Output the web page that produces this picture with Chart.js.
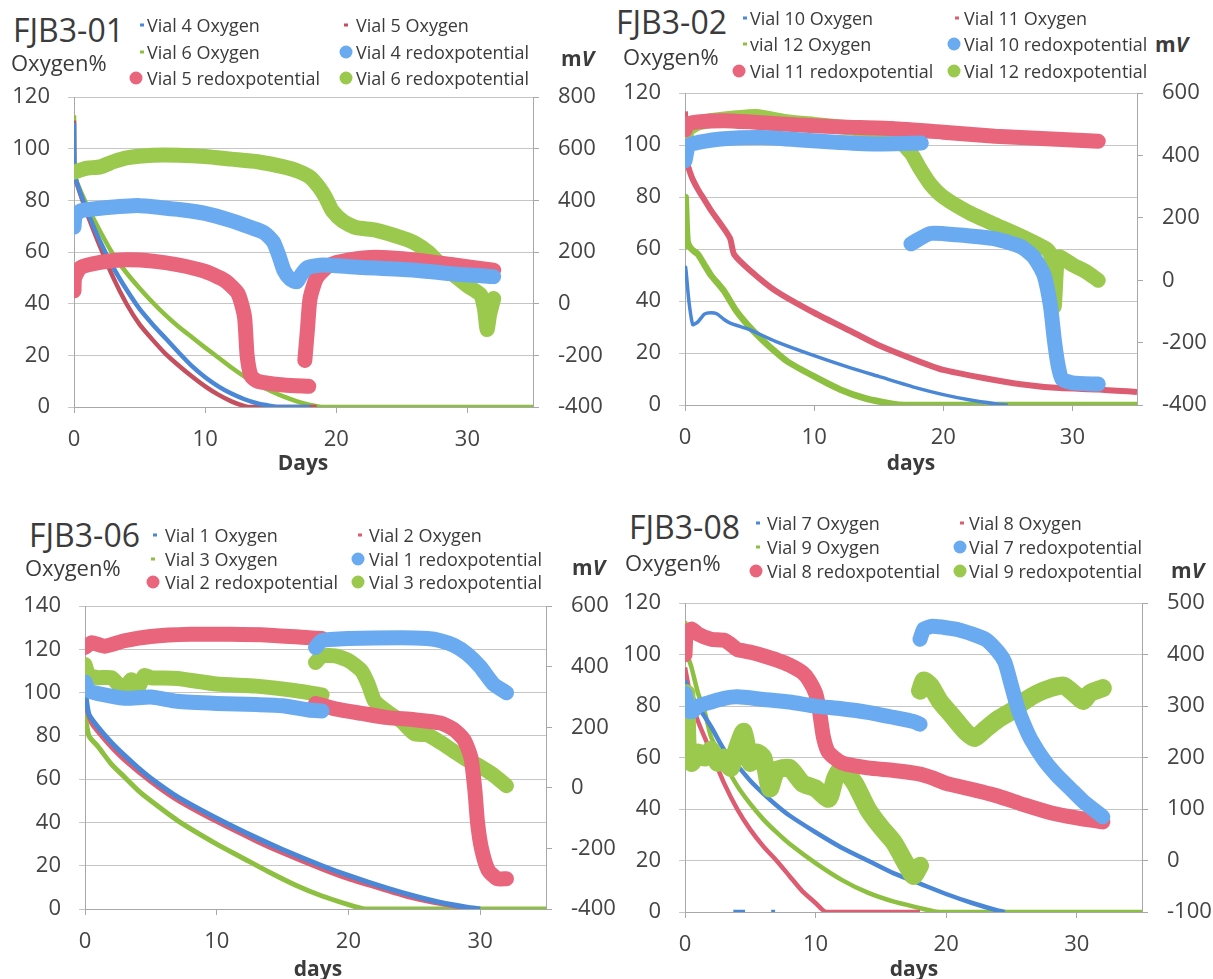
<!DOCTYPE html>
<html>
<head>
<meta charset="utf-8">
<script src="https://cdn.jsdelivr.net/npm/chart.js@4.4.0/dist/chart.umd.min.js"></script>
<style>
  body { margin: 0; width: 1213px; height: 979px; background: #fff; position: relative; overflow: hidden;
         font-family: "Open Sans", sans-serif; color: #3b3b3b; }
  .t { position: absolute; white-space: nowrap; line-height: 1; transform: translateY(-50%); }
  .title { font-size: 32px; }
  .ylab { font-size: 22px; }
  .mv { font-size: 21px; font-weight: bold; }
  .xlab { font-size: 21px; font-weight: bold; transform: translate(-50%, -50%); }
  .lg { font-size: 18px; }
  .dot { position: absolute; width: 4px; height: 3px; transform: translate(-50%, -50%); }
  .circ { position: absolute; width: 13px; height: 13px; border-radius: 50%; transform: translate(-50%, -50%); }
  canvas { position: absolute; }
</style>
</head>
<body>
<script>
/* Four oxygen / redox panels, FJB3-01 .. FJB3-08 */

const X_TICKS = [0, 10, 20, 30];
const Y_TICKS_120 = [0, 20, 40, 60, 80, 100, 120];
const Y_TICKS_140 = [0, 20, 40, 60, 80, 100, 120, 140];
const MV_TICKS_01 = [-400, -200, 0, 200, 400, 600, 800];
const MV_TICKS_02 = [-400, -200, 0, 200, 400, 600];
const MV_TICKS_06 = [-400, -200, 0, 200, 400, 600];
const MV_TICKS_08 = [-100, 0, 100, 200, 300, 400, 500];

// FJB3-01  [day, oxygen %] / [day, mV]; null = break in the record
const V4_OXYGEN = [[0, 110], [0.05, 90], [1, 76], [2, 64], [3, 54], [4, 45.5], [5, 38], [6, 32], [7, 26.5], [8, 21], [9, 15.8], [10, 11.5], [11, 8], [12, 5.2], [13, 3], [14, 1.4], [15, 0.4], [15.5, 0], [18, 0]];
const V5_OXYGEN = [[0, 111], [0.05, 90], [1, 75], [2, 62], [3, 50], [4, 40], [5, 32], [6, 26], [7, 20.5], [8, 16], [9, 11.8], [10, 8], [11, 4.8], [12, 2.2], [13, 0.3], [13.3, 0], [18.5, 0]];
const V6_OXYGEN = [[0, 113], [0.05, 90], [1, 78], [2, 68], [3, 59], [4, 52], [5, 46], [6, 40.5], [7, 35.5], [8, 31], [9, 27], [10, 23], [11, 19.2], [12, 15.3], [13, 11.8], [14, 8.8], [15, 6.2], [16, 4], [17, 2.2], [18, 0.8], [19, 0], [35, 0]];
const V4_REDOX = [[0, 297], [0.1, 340], [0.5, 360], [2, 370], [5, 380], [8, 365], [10, 350], [12, 322], [13.5, 295], [14.5, 275], [15.2, 240], [15.6, 190], [16, 130], [16.5, 95], [17, 85], [17.3, 110], [17.8, 140], [19, 150], [22, 140], [26, 130], [29, 115], [32, 105]];
const V5_REDOX = [[0, 50], [0.05, 100], [0.5, 140], [2, 160], [4, 170], [6, 165], [8, 150], [10, 125], [11.5, 90], [12.5, 40], [13, -50], [13.2, -200], [13.5, -280], [14, -300], [16, -315], [17.9, -320], [17.9, null],
                   [17.6, -220], [17.8, -100], [18, 20], [18.5, 100], [19.5, 150], [21, 170], [23, 180], [26, 170], [29, 150], [32, 130]];
const V6_REDOX = [[0, 510], [1, 525], [2, 530], [3, 550], [4, 565], [6, 575], [8, 575], [10, 570], [12, 560], [14, 550], [16, 530], [17, 515], [18, 490], [18.7, 450], [19.2, 410], [19.7, 360], [20.5, 320], [21.5, 295], [23, 285], [25, 255], [26, 235], [27, 200], [28, 150], [29, 110], [30, 70], [31, 35], [31.3, -20], [31.5, -100], [31.7, -40], [32, 20]];

// FJB3-02
const V10_OXYGEN = [[0, 48], [0.05, 53], [0.3, 40], [0.6, 31], [1, 32], [1.5, 35], [2, 35.5], [2.5, 35], [3, 33], [3.5, 31.5], [5, 29], [7, 24.5], [10, 19], [13, 14], [15, 11], [18, 6.5], [20, 4], [22, 2], [24, 0.5], [25, 0]];
const V11_OXYGEN = [[0, 113], [0.1, 95], [0.5, 88], [1, 83], [1.5, 79], [2, 75], [3, 68], [3.5, 64], [3.8, 58], [5, 52], [7, 44], [10, 35.5], [13, 28], [15, 23], [18, 17], [20, 13.5], [23, 10.5], [26, 8], [29, 6.5], [32, 6], [35, 5]];
const V12_OXYGEN = [[0, 60], [0.05, 80], [0.2, 63], [0.5, 60], [1, 58], [1.5, 54], [2, 50], [3, 44], [4, 36], [5, 30], [6, 25], [7, 20.5], [8, 16.5], [10, 11], [12, 6], [14, 2.5], [16, 0.5], [17, 0], [35, 0]];
const V10_REDOX = [[0, 383], [0.3, 433], [1, 442], [3, 454], [6, 458], [9, 450], [12, 442], [15, 437], [18.3, 440], [18.3, null],
                   [17.5, 117], [19, 150], [21, 146], [24, 133], [26, 108], [27, 75], [27.8, 17], [28.3, -83], [28.6, -192], [28.9, -275], [29.2, -317], [30, -329], [32, -333]];
const V11_REDOX = [[0, 482], [0.2, 500], [1, 508], [3, 512], [5, 508], [8, 500], [12, 492], [16, 487], [20, 475], [24, 462], [28, 454], [32, 446]];
const V12_REDOX = [[0, 433], [0.2, 483], [1, 504], [2, 512], [4, 521], [5.5, 525], [8, 508], [10, 500], [12, 492], [14, 483], [15.5, 475], [16.5, 450], [17.5, 408], [18.2, 358], [19, 308], [20, 267], [22, 217], [24, 179], [26, 142], [28, 100], [28.3, 83], [28.5, -25], [28.6, -83], [28.8, 58], [29, 75], [30, 50], [31, 29], [32, 0]];

// FJB3-06
const V1_OXYGEN = [[0, 105], [0.05, 100], [0.3, 90], [1, 84], [2, 77], [3, 71], [4, 65.5], [5, 60.5], [7, 52], [10, 42], [13, 33], [15, 27.5], [18, 20], [20, 15.5], [23, 9.5], [25, 6], [27, 3], [29, 0.8], [30, 0]];
const V2_OXYGEN = [[0, 95], [0.5, 86], [1, 82], [2, 75], [3, 69], [5, 59], [7, 50.5], [10, 40.5], [13, 31.5], [15, 26], [18, 18.5], [20, 14], [23, 8.5], [25, 5], [27, 2.5], [29, 0.5], [29.5, 0]];
const V3_OXYGEN = [[0, 90], [0.3, 80], [1, 75], [2, 67], [3, 61], [4, 55], [5, 50], [7, 41], [10, 30], [12, 23.5], [14, 17], [16, 11], [18, 6], [20, 2], [21, 0.3], [21.5, 0], [35, 0]];
const V1_REDOX = [[0, 350], [0.3, 321], [1, 311], [3, 296], [5, 300], [7, 286], [10, 279], [13, 275], [15, 271], [17, 257], [18, 254], [18, null],
                  [17.5, 464], [18, 486], [20, 493], [24, 496], [26, 493], [27, 486], [28, 471], [29, 443], [30, 400], [31, 343], [32, 314]];
const V2_REDOX = [[0, 464], [0.5, 479], [1.5, 468], [3, 486], [5, 500], [8, 507], [11, 507], [14, 504], [17, 496], [18, 493], [18, null],
                  [17.5, 279], [19, 261], [21, 246], [23, 232], [25, 225], [27, 214], [28, 193], [28.8, 157], [29.3, 100], [29.6, -7], [29.8, -114], [30.1, -200], [30.6, -271], [31.3, -300], [32, -300]];
const V3_REDOX = [[0, 407], [0.3, 371], [1, 364], [2, 364], [2.5, 343], [3, 321], [3.5, 357], [4, 329], [4.5, 371], [5, 364], [7, 361], [10, 343], [13, 336], [16, 321], [18, 307], [18, null],
                  [17.5, 414], [18, 436], [19, 436], [20, 421], [21, 386], [21.5, 343], [22, 286], [23, 250], [24, 221], [25, 179], [26, 175], [27, 150], [28, 121], [29, 93], [30, 71], [31, 43], [32, 7]];

// FJB3-08
const V7_OXYGEN = [[0, 90], [0.5, 84], [1, 80], [2, 72], [3, 63], [4, 57], [5, 51], [6, 46], [7, 41.5], [8, 37.5], [10, 31], [12, 25], [14, 20], [16, 15], [18, 11], [20, 7], [22, 3.5], [24, 0.5], [24.5, 0], [24.5, null],
                   [3.7, 0], [4.6, 0], [4.6, null], [6.6, 0], [6.9, 0]];
const V8_OXYGEN = [[0, 95], [0.5, 82], [1, 74], [2, 62], [3, 50], [4, 40], [5, 32], [6, 25.5], [7, 20], [8, 14], [9, 8], [10, 3.5], [10.8, 0], [18, 0]];
const V9_OXYGEN = [[0, 113], [0.2, 100], [0.5, 95], [1, 85], [1.5, 78], [2, 68], [3, 58], [4, 49], [5, 42], [6, 36], [7, 31], [8, 26.5], [10, 19], [12, 12.5], [14, 7.5], [16, 4], [18, 1.5], [19, 0.3], [19.5, 0], [35, 0]];
const V7_REDOX = [[0, 325], [0.3, 290], [0.6, 290], [1, 300], [2, 308], [3, 315], [4, 318], [6, 313], [8, 308], [10, 300], [12, 295], [14, 288], [16, 278], [17.5, 270], [18, 265], [18, null],
                  [18, 430], [18.3, 450], [19, 455], [21, 448], [23, 430], [24, 405], [24.5, 385], [25, 340], [25.5, 295], [26, 262], [26.5, 235], [27.5, 195], [28.5, 165], [29.5, 140], [30.5, 115], [31.5, 95], [32, 85]];
const V8_REDOX = [[0, 400], [0.1, 440], [0.5, 450], [1, 440], [2, 430], [3, 428], [3.5, 420], [4, 410], [5, 405], [6, 398], [7, 390], [8, 380], [9, 365], [9.5, 350], [10, 325], [10.3, 290], [10.6, 240], [11, 210], [12, 190], [14, 180], [16, 175], [18, 168], [19, 160], [20, 150], [22, 138], [24, 125], [26, 108], [28, 93], [30, 83], [32, 75]];
const V9_REDOX = [[0, 210], [0.1, 325], [0.2, 225], [0.5, 190], [1, 210], [1.5, 200], [2, 215], [2.5, 190], [3, 200], [3.5, 180], [4, 220], [4.5, 250], [5, 190], [5.5, 210], [6, 200], [6.5, 140], [7, 175], [8, 180], [9, 150], [10, 140], [11, 120], [11.5, 160], [12, 180], [13, 150], [14, 100], [15, 65], [16, 35], [17, -10], [17.5, -30], [18, -10], [18, null],
                  [18, 330], [18.3, 350], [18.8, 340], [19.5, 310], [20.5, 280], [21.5, 250], [22.2, 238], [23, 255], [24, 275], [25, 290], [26, 310], [27, 325], [28, 335], [29, 340], [30, 320], [30.5, 310], [31, 325], [32, 335]];

const O2_BLUE = "#4a87d6", O2_RED = "#c4505f", O2_PINK = "#dc5d72", O2_GREEN = "#8dbf40";
const RX_BLUE = "#6aaaf0", RX_RED = "#e8657c", RX_GREEN = "#9bc94e";
const GRID = "#c6c6c6", AXIS = "#a8a8a8", TICK_TXT = "#444";

const toXY = (pairs) => pairs.map(([x, y]) => ({ x, y }));
const o2 = (pairs, color, width = 4.5) => ({ data: toXY(pairs), borderColor: color, borderWidth: width, yAxisID: "y", order: 2 });
const redox = (pairs, color, width = 15) => ({ data: toXY(pairs), borderColor: color, borderWidth: width, yAxisID: "y2", order: 1,
  borderCapStyle: "round", borderJoinStyle: "round" });

const PANELS = [
  {
    area: { left: 74, top: 85, right: 533, bottom: 407 },
    yTicks: Y_TICKS_120, mvTicks: MV_TICKS_01,
    datasets: [o2(V4_OXYGEN, O2_BLUE), o2(V5_OXYGEN, O2_RED), o2(V6_OXYGEN, O2_GREEN),
               redox(V4_REDOX, RX_BLUE), redox(V5_REDOX, RX_RED), redox(V6_REDOX, RX_GREEN)],
    title: ["FJB3-01", 13, 30], ylab: [11, 62], mv: [561, 58], xlab: ["Days", 303, 462],
    legend: [
      ["dot", 142, 147, 25, "Vial 4 Oxygen", O2_BLUE], ["dot", 346, 356, 25, "Vial 5 Oxygen", O2_RED],
      ["dot", 142, 147, 52, "Vial 6 Oxygen", O2_GREEN], ["circ", 346, 356, 52, "Vial 4 redoxpotential", RX_BLUE],
      ["circ", 136, 147, 78, "Vial 5 redoxpotential", RX_RED], ["circ", 346, 356, 78, "Vial 6 redoxpotential", RX_GREEN],
    ],
  },
  {
    area: { left: 685, top: 81, right: 1137, bottom: 405 },
    yTicks: Y_TICKS_120, mvTicks: MV_TICKS_02,
    datasets: [o2(V10_OXYGEN, O2_BLUE, 3.5), o2(V11_OXYGEN, O2_PINK, 6), o2(V12_OXYGEN, O2_GREEN, 6.5),
               redox(V10_REDOX, RX_BLUE), redox(V11_REDOX, RX_RED), redox(V12_REDOX, RX_GREEN)],
    title: ["FJB3-02", 616, 22], ylab: [623, 56], mv: [1155, 44], xlab: ["days", 911, 462],
    legend: [
      ["dot", 745, 750, 18, "Vial 10 Oxygen", O2_BLUE], ["dot", 957, 964, 18, "Vial 11 Oxygen", O2_PINK],
      ["dot", 745, 750, 44, "vial 12 Oxygen", O2_GREEN], ["circ", 954, 964, 44, "Vial 10 redoxpotential", RX_BLUE],
      ["circ", 739, 750, 71, "Vial 11 redoxpotential", RX_RED], ["circ", 954, 964, 71, "Vial 12 redoxpotential", RX_GREEN],
    ],
  },
  {
    area: { left: 85, top: 594, right: 546, bottom: 909 },
    yTicks: Y_TICKS_140, mvTicks: MV_TICKS_06,
    datasets: [o2(V1_OXYGEN, O2_BLUE, 5), o2(V2_OXYGEN, O2_PINK, 5), o2(V3_OXYGEN, O2_GREEN, 5),
               redox(V1_REDOX, RX_BLUE), redox(V2_REDOX, RX_RED), redox(V3_REDOX, RX_GREEN)],
    title: ["FJB3-06", 29, 535], ylab: [25, 567], mv: [572, 567], xlab: ["days", 318, 968],
    legend: [
      ["dot", 155, 165, 535, "Vial 1 Oxygen", O2_BLUE], ["dot", 360, 369, 535, "Vial 2 Oxygen", O2_PINK],
      ["dot", 153, 165, 559, "Vial 3 Oxygen", O2_GREEN], ["circ", 358, 369, 559, "Vial 1 redoxpotential", RX_BLUE],
      ["circ", 153, 165, 582, "Vial 2 redoxpotential", RX_RED], ["circ", 358, 369, 582, "Vial 3 redoxpotential", RX_GREEN],
    ],
  },
  {
    area: { left: 685, top: 591, right: 1142, bottom: 912 },
    yTicks: Y_TICKS_120, mvTicks: MV_TICKS_08,
    datasets: [o2(V7_OXYGEN, O2_BLUE), o2(V8_OXYGEN, O2_PINK), o2(V9_OXYGEN, O2_GREEN),
               redox(V7_REDOX, RX_BLUE), redox(V8_REDOX, RX_RED), redox(V9_REDOX, RX_GREEN, 18)],
    title: ["FJB3-08", 629, 527], ylab: [625, 562], mv: [1171, 570], xlab: ["days", 914, 968],
    legend: [
      ["dot", 758, 767, 523, "Vial 7 Oxygen", O2_BLUE], ["dot", 962, 969, 523, "Vial 8 Oxygen", O2_PINK],
      ["dot", 758, 767, 547, "Vial 9 Oxygen", O2_GREEN], ["circ", 960, 969, 547, "Vial 7 redoxpotential", RX_BLUE],
      ["circ", 756, 767, 571, "Vial 8 redoxpotential", RX_RED], ["circ", 960, 969, 571, "Vial 9 redoxpotential", RX_GREEN],
    ],
  },
];

function addText(html, cls, x, y) {
  const el = document.createElement("div");
  el.className = "t " + cls;
  el.innerHTML = html;
  el.style.left = x + "px";
  el.style.top = y + "px";
  document.body.appendChild(el);
}

function addMarker(kind, x, y, color) {
  const el = document.createElement("div");
  el.className = kind;
  el.style.left = x + "px";
  el.style.top = y + "px";
  el.style.background = color;
  document.body.appendChild(el);
}

function drawPanel(p) {
  const LW = 80, RW = 80, TP = 20, XH = 70;
  const a = p.area;
  const cv = document.createElement("canvas");
  cv.width = LW + (a.right - a.left) + RW;
  cv.height = TP + (a.bottom - a.top) + XH;
  cv.style.left = a.left - LW + "px";
  cv.style.top = a.top - TP + "px";
  document.body.appendChild(cv);

  const tickFont = { family: "'Open Sans', sans-serif", size: 22 };
  const ticksFrom = (arr) => (s) => { s.ticks = arr.map((v) => ({ value: v })); };

  new Chart(cv, {
    type: "line",
    data: { datasets: p.datasets },
    options: {
      responsive: false,
      animation: false,
      layout: { padding: { top: TP, left: 0, right: 0, bottom: 0 } },
      elements: { point: { radius: 0 }, line: { tension: 0.2, fill: false } },
      spanGaps: false,
      plugins: { legend: { display: false }, tooltip: { enabled: false } },
      scales: {
        x: {
          type: "linear", min: 0, max: 35,
          afterBuildTicks: ticksFrom(X_TICKS),
          afterFit: (s) => { s.height = XH; },
          grid: { drawOnChartArea: false, tickLength: 6, color: AXIS },
          border: { color: AXIS },
          ticks: { font: tickFont, color: TICK_TXT, padding: 14, maxRotation: 0 },
        },
        y: {
          position: "left", min: 0, max: p.yTicks[p.yTicks.length - 1],
          afterBuildTicks: ticksFrom(p.yTicks),
          afterFit: (s) => { s.width = LW; },
          grid: { color: GRID, tickLength: 6 },
          border: { color: AXIS },
          ticks: { font: tickFont, color: TICK_TXT, padding: 18 },
        },
        y2: {
          position: "right", min: p.mvTicks[0], max: p.mvTicks[p.mvTicks.length - 1],
          afterBuildTicks: ticksFrom(p.mvTicks),
          afterFit: (s) => { s.width = RW; },
          grid: { drawOnChartArea: false, tickLength: 6, color: AXIS },
          border: { color: AXIS },
          ticks: { font: tickFont, color: TICK_TXT, padding: 19 },
        },
      },
    },
  });

  addText(p.title[0], "title", p.title[1], p.title[2]);
  addText("Oxygen%", "ylab", p.ylab[0], p.ylab[1]);
  addText("m<i>V</i>", "mv", p.mv[0], p.mv[1]);
  addText(p.xlab[0], "xlab", p.xlab[1], p.xlab[2]);
  p.legend.forEach(([kind, mx, tx, y, label, color]) => {
    addMarker(kind, mx, y, color);
    addText(label, "lg", tx, y);
  });
}

PANELS.forEach(drawPanel);
</script>
</body>
</html>
